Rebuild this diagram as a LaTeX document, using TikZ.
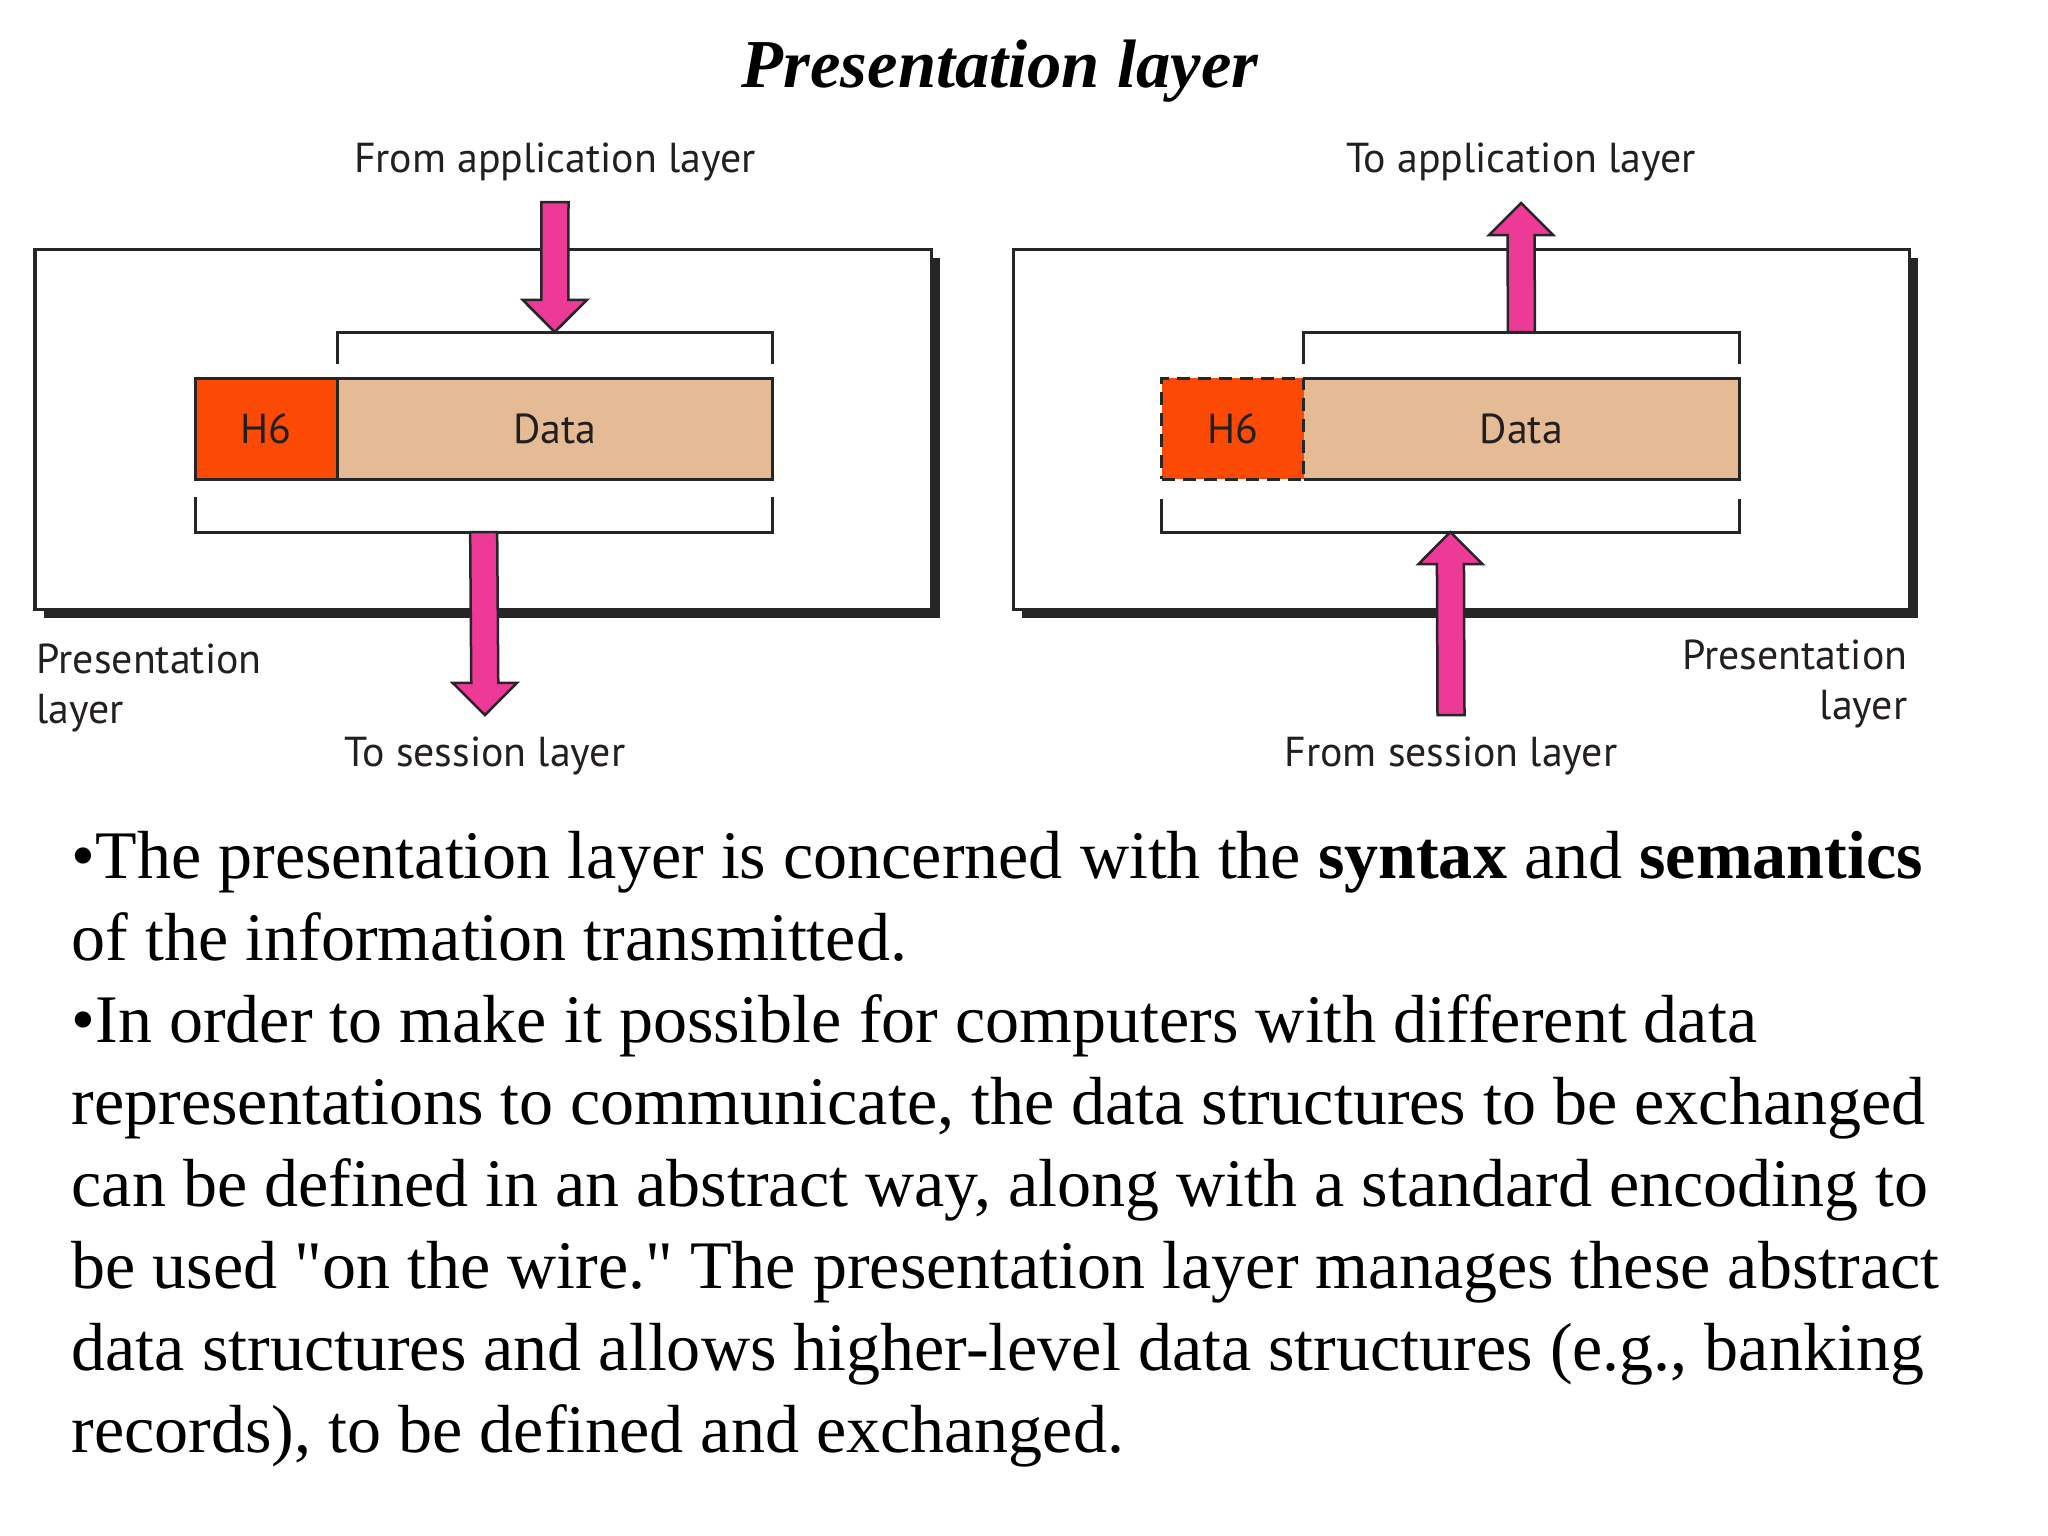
\documentclass[tikz,border=0pt]{standalone}
\usepackage{fontspec}
\setmainfont{Liberation Serif}[Ligatures=TeXOff]
\newfontfamily\diagfont{PT Sans}
\usetikzlibrary{calc}

\definecolor{hdrred}{RGB}{252,74,4}
\definecolor{datatan}{RGB}{228,187,149}
\definecolor{arrowpink}{RGB}{236,58,150}
\definecolor{labelgray}{RGB}{35,31,32}

% mui ten khoi: than, dau, do dai dau
\newcommand{\arrowsw}{0.135cm}
\newcommand{\arrowhw}{0.32cm}
\newcommand{\arrowhl}{0.32cm}
\newcommand{\blockarrow}[2]{%
  \coordinate (hb) at ($(#2)!\arrowhl!(#1)$);
  \draw[blkarrow] ([xshift=-\arrowsw]#1) -- ([xshift=\arrowsw]#1)
    -- ([xshift=\arrowsw]hb) -- ([xshift=\arrowhw]hb) -- (#2)
    -- ([xshift=-\arrowhw]hb) -- ([xshift=-\arrowsw]hb) -- cycle;}

\begin{document}
\begin{tikzpicture}[x=0.01cm, y=-0.01cm,
    lbl/.style={font=\diagfont\fontsize{11.9}{14}\selectfont, text=labelgray, inner sep=0pt},
    layerbox/.style={draw=black!85, fill=white, line width=0.03cm},
    hdrcell/.style={draw=black!85, fill=hdrred, line width=0.03cm, minimum width=1.42cm,
      minimum height=1.01cm, inner sep=0pt, outer sep=0pt,
      font=\diagfont\fontsize{11.9}{14}\selectfont, text=labelgray},
    datacell/.style={hdrcell, fill=datatan, minimum width=4.35cm},
    hdrdashed/.style={dash pattern=on 0.13cm off 0.08cm},
    bracket/.style={draw=black!85, line width=0.03cm},
    blkarrow/.style={draw=black!85, fill=arrowpink, line width=0.025cm, line join=miter},
    bodyline/.style={anchor=base west, inner sep=0pt, font=\fontsize{19.35}{23.3}\selectfont}]
    \useasboundingbox[fill=white] (0,0) rectangle (2048,1536);

    % 1. Tieu de
    \node[anchor=base, inner sep=0pt, font=\fontsize{19.5}{24}\selectfont\bfseries\itshape] (title) at (1000,87) {Presentation layer};

    % 2. Khung trai (phia gui)
    \fill[black!85] (44,258) rectangle (940,618);
    \draw[layerbox] (35,249) rectangle (931,609);
    \node[hdrcell, anchor=north west] (lh6) at (195,378) {H6};
    \node[datacell, anchor=west] (ldata) at (lh6.east) {Data};
    \draw[bracket] ($(ldata.north west)+(0,-14)$) -- ++(0,-32) -- ($(ldata.north east)+(0,-46)$) -- ++(0,32);
    \draw[bracket] ($(lh6.south west)+(0,18)$) -- ++(0,35) -- ($(ldata.south east)+(0,53)$) -- ++(0,-35);

    \node[lbl, anchor=base] (lfrom) at (555,172) {From application layer};
    \node[lbl, anchor=base] (lto) at (485,766) {To session layer};
    \node[lbl, anchor=base west] (lpres) at (36,673) {Presentation};
    \node[lbl, anchor=base west] (llayer) at (36,723) {layer};

    \coordinate (lin) at ($(lfrom.base)+(0,30)$);
    \coordinate (lintip) at ($(ldata.north)+(0,-46)$);
    \coordinate (lout) at ($(lh6.south west)!0.5!(ldata.south east)+(0,53)$);
    \coordinate (louttip) at ($(lto.base)+(0,-51)$);
    \blockarrow{lin}{lintip}
    \blockarrow{lout}{louttip}

    % 3. Khung phai (phia nhan), H6 net dut
    \fill[black!85] (1022,258) rectangle (1918,618);
    \draw[layerbox] (1013,249) rectangle (1909,609);
    \node[datacell, draw=none, anchor=north east] (rdata) at (1739,378) {Data};
    \node[hdrcell, hdrdashed, anchor=east] (rh6) at (rdata.west) {H6};
    \draw[bracket] (rh6.north east) -- (rdata.north east) -- (rdata.south east) -- (rh6.south east);
    \draw[bracket] ($(rdata.north west)+(0,-14)$) -- ++(0,-32) -- ($(rdata.north east)+(0,-46)$) -- ++(0,32);
    \draw[bracket] ($(rh6.south west)+(0,20)$) -- ++(0,33) -- ($(rdata.south east)+(0,53)$) -- ++(0,-33);

    \node[lbl, anchor=base] (rto) at (1521,172) {To application layer};
    \node[lbl, anchor=base] (rfrom) at (1451,766) {From session layer};
    \node[lbl, anchor=base east] (rpres) at (1908,669) {Presentation};
    \node[lbl, anchor=base east] (rlayer) at (1908,719) {layer};

    \coordinate (rup) at ($(rdata.north)+(0,-46)$);
    \coordinate (ruptip) at ($(rto.base)+(0,31)$);
    \coordinate (rin) at ($(rfrom.base)+(0,-51)$);
    \coordinate (rintip) at ($(rh6.south west)!0.5!(rdata.south east)+(0,53)$);
    \blockarrow{rup}{ruptip}
    \blockarrow{rin}{rintip}

    % 4. Doan van ben duoi
    \foreach \txt [count=\i from 0] in {
        {•The presentation layer is concerned with the \textbf{syntax} and \textbf{semantics}},
        {of the information transmitted.},
        {•In order to make it possible for computers with different data},
        {representations to communicate, the data structures to be exchanged},
        {can be defined in an abstract way, along with a standard encoding to},
        {be used "on the wire." The presentation layer manages these abstract},
        {data structures and allows higher-level data structures (e.g., banking},
        {records), to be defined and exchanged.}}
      \node[bodyline] (line\i) at (71,878+82*\i) {\txt};

\end{tikzpicture}
\end{document}
